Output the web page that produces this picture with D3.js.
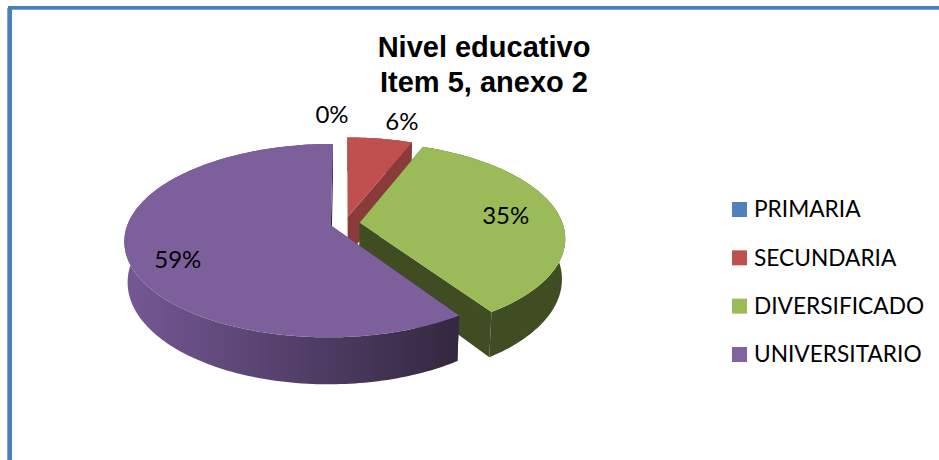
<!DOCTYPE html>
<html><head><meta charset="utf-8">
<script src="https://cdn.jsdelivr.net/npm/d3@7"></script>
<style>html,body{margin:0;padding:0;background:#fff}svg{display:block}</style>
</head><body><div id="c"></div>
<script>
const categories = ["PRIMARIA","SECUNDARIA","DIVERSIFICADO","UNIVERSITARIO"];
const values = [0,6,34.6,59.4];
const labels = ["0%","6%","35%","59%"];
const topColors = ["#4f81bd","#c0504d","#9bbb59","#7d5f9c"];
const legendColors = ["#4f81bd","#c0504d","#9bbb59","#8064a2"];
const cutColors = ["#2f4d71","#8a3a38","#404c22","#352a45"];
const sideFrom = ["#2f4d71","#8a3a38","#404c22","#755895"];
const sideTo = ["#2f4d71","#8a3a38","#404c22","#33283f"];
const labelNudges = [[-13,-6],[15,-1],[-9,0],[5,12]];
const titleLines = ["Nivel educativo","Item 5, anexo 2"];

const W=939,H=460;
const svg=d3.select("#c").append("svg").attr("width",W).attr("height",H);
const defs=svg.append("defs");
// frame
svg.append("path").attr("d",`M${W} 8H10V${H}`).attr("fill","none").attr("stroke","#4a7ebb").attr("stroke-width",4);
svg.append("path").attr("d",`M${W} 9.5H12`).attr("fill","none").attr("stroke","#7ea6d6").attr("stroke-width",1);
svg.append("path").attr("d",`M7.5 8V${H}`).attr("fill","none").attr("stroke","#7ea6d6").attr("stroke-width",1);

// projection of the tilted pie plane
const cx=345,cy=223.5,R=203,Ry=93.7,k=0.156,depth=39.5,shrink=0.985,explode=0.0725;
function project(u,v,low){
  const s=1/(1-k*v);
  return low?[cx+R*shrink*u*s,cy+Ry*v*s+depth*s]:[cx+R*u*s,cy+Ry*v*s];
}
const pie=d3.pie().sort(null).value(d=>d);
const arcs=pie(values);
const line=d3.line();
function slicePts(a,low){
  const mid=(a.startAngle+a.endAngle)/2, ox=Math.sin(mid)*explode, oy=-Math.cos(mid)*explode;
  const n=Math.max(2,Math.ceil((a.endAngle-a.startAngle)/0.02));
  const pts=d3.range(n+1).map(i=>{const t=a.startAngle+(a.endAngle-a.startAngle)*i/n;
    return project(ox+Math.sin(t),oy-Math.cos(t),low);});
  return {apex:project(ox,oy,low),pts};
}
const g=svg.append("g");
// painter order: back slice first, then the right slice, then the front slice
[1,2,3].forEach(i=>{
  const a=arcs[i];
  const top=slicePts(a,false), low=slicePts(a,true);
  const gid="side"+i;
  const lg=defs.append("linearGradient").attr("id",gid).attr("gradientUnits","userSpaceOnUse")
    .attr("x1",d3.min(top.pts,p=>p[0])).attr("x2",d3.max(top.pts,p=>p[0])).attr("y1",0).attr("y2",0);
  lg.append("stop").attr("offset",0).attr("stop-color",sideFrom[i]);
  lg.append("stop").attr("offset",1).attr("stop-color",sideTo[i]);
  // radial cut faces
  [[top.pts[0],low.pts[0]],[top.pts[top.pts.length-1],low.pts[low.pts.length-1]]].forEach(([p,q])=>{
    g.append("path").attr("d",line([top.apex,p,q,low.apex])+"Z").attr("fill",cutColors[i]);
  });
  // outer wall
  g.append("path").attr("d",line(top.pts.concat(low.pts.slice().reverse()))+"Z").attr("fill",`url(#${gid})`);
  // top face
  g.append("path").attr("d",line([top.apex].concat(top.pts))+"Z").attr("fill",topColors[i]);
});
// data labels
const lab=svg.append("g").attr("font-family","Lato, Carlito, sans-serif").attr("font-size",24).attr("fill","#000").attr("text-anchor","middle");
arcs.forEach((a,i)=>{
  const mid=(a.startAngle+a.endAngle)/2, r=i<2?1.25:0.78;
  const p=project(Math.sin(mid)*(explode+r),-Math.cos(mid)*(explode+r),false);
  lab.append("text").attr("x",p[0]+labelNudges[i][0]).attr("y",p[1]+labelNudges[i][1]).attr("dy","0.35em").text(labels[i]);
});
// title
const tt=svg.append("g").attr("font-family","'Liberation Sans',Arial,sans-serif").attr("font-weight","bold").attr("font-size",29).attr("text-anchor","middle").attr("fill","#000");
const ty=d3.scalePoint().domain(titleLines).range([57,92]);
titleLines.forEach(t=>tt.append("text").attr("x",484).attr("y",ty(t)).text(t));
// legend
const ly=d3.scalePoint().domain(categories).range([209.5,354.5]);
const leg=svg.append("g").attr("font-family","Lato, Carlito, sans-serif").attr("font-size",22.7).attr("fill","#000");
categories.forEach((c,i)=>{
  leg.append("rect").attr("x",732).attr("y",ly(c)-7.5).attr("width",15).attr("height",15).attr("fill",legendColors[i]);
  leg.append("text").attr("x",754).attr("y",ly(c)).attr("dy","0.35em").text(c);
});
</script></body></html>
